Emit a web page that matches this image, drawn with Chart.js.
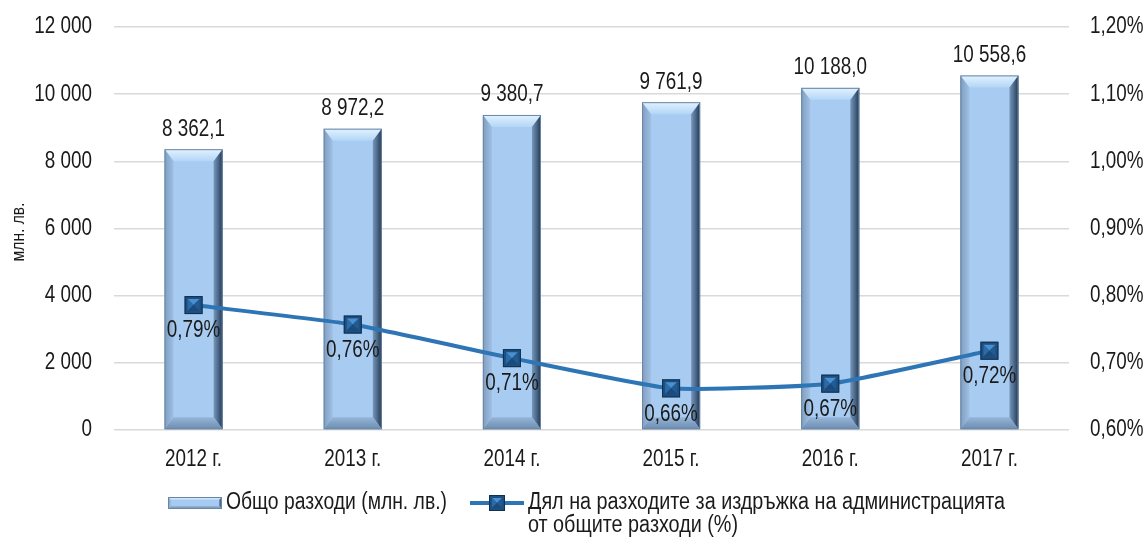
<!DOCTYPE html>
<html><head><meta charset="utf-8">
<script src="https://cdn.jsdelivr.net/npm/chart.js@4.4.0/dist/chart.umd.min.js"></script>
<style>html,body{margin:0;padding:0;background:#fff;}#wrap{width:1147px;height:539px;position:relative;}</style>
</head><body><div id="wrap"><canvas id="c" width="1147" height="539"></canvas></div>
<script>
const categories = ['2012 г.', '2013 г.', '2014 г.', '2015 г.', '2016 г.', '2017 г.'];
const totalSpending = [8362.1, 8972.2, 9380.7, 9761.9, 10188.0, 10558.6];
const adminShare = [0.786, 0.757, 0.707, 0.662, 0.669, 0.718];
const leftTicks = [0, 2000, 4000, 6000, 8000, 10000, 12000];
const rightTicks = [0.6, 0.7, 0.8, 0.9, 1.0, 1.1, 1.2];
const barSeriesName = 'Общо разходи (млн. лв.)';
const lineSeriesName = ['Дял на разходите за издръжка на администрацията', 'от общите разходи (%)'];
const yAxisTitle = 'млн. лв.';

const FONT = "'Liberation Sans', Arial, sans-serif";
const SX = 0.82;           // horizontal condensing (Arial Narrow look)
const TEXT = '#1a1a1a';

function groupThousands(s) { return s.replace(/\B(?=(\d{3})+(?!\d))/g, ' '); }
function fmtInt(v) { return groupThousands(String(Math.round(v))); }
function fmtOne(v) { const p = v.toFixed(1).split('.'); return groupThousands(p[0]) + ',' + p[1]; }
function fmtPct(v) { return v.toFixed(2).replace('.', ',') + '%'; }

function txt(ctx, text, x, y, align, size, rot, sx) {
  ctx.save();
  ctx.font = size + 'px ' + FONT;
  ctx.fillStyle = TEXT;
  ctx.textAlign = align;
  ctx.textBaseline = 'middle';
  ctx.translate(x, y);
  if (rot) ctx.rotate(rot);
  ctx.scale(sx || SX, 1);
  ctx.fillText(text, 0, 0);
  ctx.restore();
}

function bevelRect(ctx, x0, y0, x1, y1, bt, bs) {
  let g = ctx.createLinearGradient(0, y0, 0, y0 + bt);
  g.addColorStop(0, '#e2f2ff'); g.addColorStop(1, '#b3d6f7');
  ctx.fillStyle = g;
  ctx.beginPath(); ctx.moveTo(x0, y0); ctx.lineTo(x1, y0); ctx.lineTo(x1 - bs, y0 + bt); ctx.lineTo(x0 + bs, y0 + bt); ctx.closePath(); ctx.fill();
  g = ctx.createLinearGradient(x0, 0, x0 + bs, 0);
  g.addColorStop(0, '#7f9dbf'); g.addColorStop(1, '#9fc0e4');
  ctx.fillStyle = g;
  ctx.beginPath(); ctx.moveTo(x0, y0); ctx.lineTo(x0 + bs, y0 + bt); ctx.lineTo(x0 + bs, y1 - bt); ctx.lineTo(x0, y1); ctx.closePath(); ctx.fill();
  g = ctx.createLinearGradient(x1 - bs, 0, x1, 0);
  g.addColorStop(0, '#7896b8'); g.addColorStop(0.5, '#4c6a8c'); g.addColorStop(1, '#22354b');
  ctx.fillStyle = g;
  ctx.beginPath(); ctx.moveTo(x1, y0); ctx.lineTo(x1, y1); ctx.lineTo(x1 - bs, y1 - bt); ctx.lineTo(x1 - bs, y0 + bt); ctx.closePath(); ctx.fill();
  g = ctx.createLinearGradient(0, y1 - bt, 0, y1);
  g.addColorStop(0, '#95b6da'); g.addColorStop(1, '#6d8cae');
  ctx.fillStyle = g;
  ctx.beginPath(); ctx.moveTo(x0, y1); ctx.lineTo(x1, y1); ctx.lineTo(x1 - bs, y1 - bt); ctx.lineTo(x0 + bs, y1 - bt); ctx.closePath(); ctx.fill();
  ctx.strokeStyle = '#6a86a6'; ctx.lineWidth = 1;
  ctx.strokeRect(x0 + 0.5, y0 + 0.5, x1 - x0 - 1, y1 - y0 - 1);
}

function drawMarker(ctx, cx, cy, s) {
  const h = s / 2, x0 = cx - h, y0 = cy - h, x1 = cx + h, y1 = cy + h, b = 3;
  ctx.fillStyle = '#1d4f80';
  ctx.fillRect(x0, y0, s, s);
  const ix0 = x0 + b, iy0 = y0 + b, ix1 = x1 - b, iy1 = y1 - b;
  const tri = (p, col) => { ctx.fillStyle = col; ctx.beginPath(); ctx.moveTo(p[0], p[1]); ctx.lineTo(p[2], p[3]); ctx.lineTo(p[4], p[5]); ctx.closePath(); ctx.fill(); };
  tri([ix0, iy0, ix1, iy0, cx, cy], '#4a8fcf');
  tri([ix0, iy0, ix0, iy1, cx, cy], '#2c6aa8');
  tri([ix1, iy0, ix1, iy1, cx, cy], '#225a92');
  tri([ix0, iy1, ix1, iy1, cx, cy], '#1a4b7c');
  ctx.strokeStyle = '#10304f'; ctx.lineWidth = 1;
  ctx.strokeRect(x0 + 0.5, y0 + 0.5, s - 1, s - 1);
}

const decorPlugin = {
  id: 'decor',
  afterDatasetDraw(chart, args) {
    const ctx = chart.ctx;
    if (args.index === 0) {
      args.meta.data.forEach(el => {
        bevelRect(ctx, el.x - el.width / 2, el.y, el.x + el.width / 2, el.base, 12, 9);
      });
    } else if (args.index === 1) {
      args.meta.data.forEach(pt => drawMarker(ctx, pt.x, pt.y, 18));
    }
  },
  afterDatasetsDraw(chart) {
    const ctx = chart.ctx;
    chart.getDatasetMeta(0).data.forEach((el, i) => txt(ctx, fmtOne(totalSpending[i]), el.x, el.y - 20, 'center', 23));
    chart.getDatasetMeta(1).data.forEach((pt, i) => txt(ctx, fmtPct(adminShare[i]), pt.x, pt.y + 26, 'center', 23));
  },
  afterDraw(chart) {
    const ctx = chart.ctx;
    const ys = chart.scales.y, y1s = chart.scales.y1, xs = chart.scales.x;
    ys.ticks.forEach(t => txt(ctx, fmtInt(t.value), ys.right - 22, ys.getPixelForValue(t.value), 'right', 23));
    y1s.ticks.forEach(t => txt(ctx, fmtPct(t.value), y1s.left + 21, y1s.getPixelForValue(t.value), 'left', 23));
    categories.forEach((c, i) => txt(ctx, c, xs.getPixelForValue(i), chart.chartArea.bottom + 30, 'center', 23));
    txt(ctx, yAxisTitle, 19, 232, 'center', 19, -Math.PI / 2);
    // legend
    const ly = 503;
    ctx.save();
    ctx.fillStyle = '#a7cbf0';
    ctx.fillRect(168, ly - 6, 54, 12);
    bevelRect(ctx, 168, ly - 6, 222, ly + 6, 3, 3);
    ctx.strokeStyle = '#2e75b6';
    ctx.lineWidth = 4;
    ctx.beginPath(); ctx.moveTo(470, ly); ctx.lineTo(524, ly); ctx.stroke();
    drawMarker(ctx, 497, ly, 16);
    ctx.restore();
    txt(ctx, barSeriesName, 226, ly, 'left', 23, 0, 0.84);
    txt(ctx, lineSeriesName[0], 528, ly, 'left', 23, 0, 0.86);
    txt(ctx, lineSeriesName[1], 528, ly + 23, 'left', 23, 0, 0.86);
  }
};

new Chart(document.getElementById('c'), {
  data: {
    labels: categories,
    datasets: [
      {
        type: 'bar', label: barSeriesName, data: totalSpending, yAxisID: 'y', order: 2,
        backgroundColor: '#a8ccf1', borderWidth: 0, categoryPercentage: 1, barPercentage: 0.365
      },
      {
        type: 'line', label: lineSeriesName.join(' '), data: adminShare, yAxisID: 'y1', order: 1,
        borderColor: '#2e75b6', borderWidth: 4, tension: 0.15,
        pointStyle: 'rect', pointRadius: 9, pointBackgroundColor: '#1d4f80', pointBorderColor: '#10304f'
      }
    ]
  },
  options: {
    responsive: false, devicePixelRatio: 1, animation: false,
    layout: { padding: { top: 27, bottom: 62, left: 0, right: 0 } },
    plugins: { legend: { display: false }, tooltip: { enabled: false } },
    scales: {
      x: {
        offset: true,
        grid: { display: false, drawTicks: false },
        border: { display: false },
        ticks: { display: false },
        afterFit: (s) => { s.height = 47; }
      },
      y: {
        position: 'left', min: 0, max: 12000,
        afterBuildTicks: (s) => { s.ticks = leftTicks.map(v => ({ value: v })); },
        grid: { color: '#d9d9d9', lineWidth: 1.5, drawTicks: false },
        border: { display: false },
        ticks: { display: false },
        afterFit: (s) => { s.width = 114; }
      },
      y1: {
        position: 'right', min: 0.6, max: 1.2,
        afterBuildTicks: (s) => { s.ticks = rightTicks.map(v => ({ value: v })); },
        grid: { display: false, drawTicks: false },
        border: { display: false },
        ticks: { display: false },
        afterFit: (s) => { s.width = 78; }
      }
    }
  },
  plugins: [decorPlugin]
});
</script></body></html>
